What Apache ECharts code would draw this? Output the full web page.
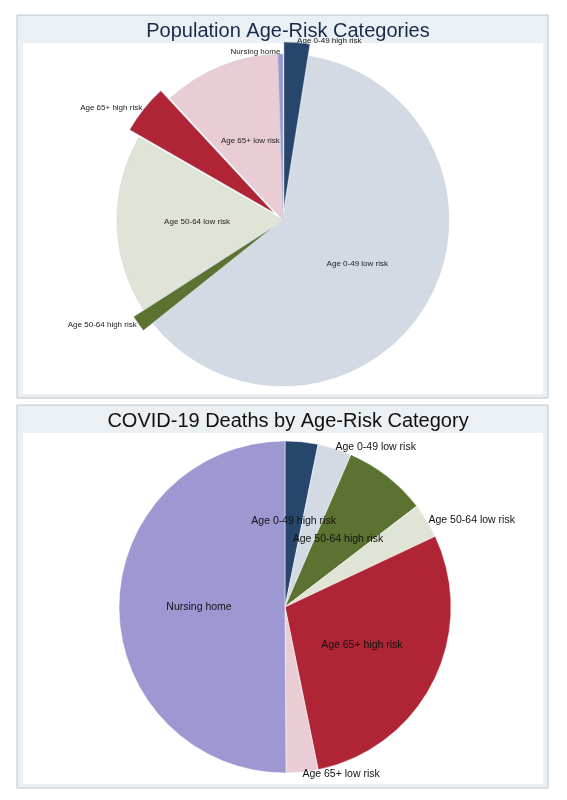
<!DOCTYPE html>
<html><head><meta charset="utf-8">
<script src="https://cdn.jsdelivr.net/npm/echarts@6/dist/echarts.min.js"></script>
<style>html,body{margin:0;padding:0;background:#fff}#c{width:567px;height:800px}</style>
</head><body><div id="c"></div>
<script>
const categories = ["Age 0-49 high risk","Age 0-49 low risk","Age 50-64 high risk","Age 50-64 low risk","Age 65+ high risk","Age 65+ low risk","Nursing home"];
const populationShare = [2.5, 61.8, 1.6, 17.4, 4.8, 11.4, 0.5];
const deathShare = [3.2, 3.3, 8.1, 3.4, 28.8, 3.1, 50.1];
const colors = ["#27466b","#d3dae3","#5b7231","#e0e4d6","#b02535","#eacdd4","#9d98d2"];
const popExploded = [true,false,true,false,true,false,false];
const popInside = [false,true,false,true,false,true,false];
const deathInside = [true,false,true,false,true,false,true];

const chart = echarts.init(document.getElementById('c'));
function panel(y){
  return [
    {type:'rect',shape:{x:17,y:y,width:531,height:383},style:{fill:'#eaf0f3',stroke:'#b8c6d2',lineWidth:1},silent:true},
    {type:'rect',shape:{x:23,y:y+28,width:520,height:351},style:{fill:'#ffffff'},silent:true}
  ];
}
function pieData(vals, inside, exploded, fs){
  return categories.map((n,i)=>({
    name:n, value:vals[i], selected: exploded ? exploded[i] : false,
    itemStyle:{color:colors[i]},
    label:{position: inside[i] ? 'inside' : 'outside', fontSize:fs},
    labelLine:{show:false}
  }));
}
chart.setOption({
  animation:false,
  graphic: panel(15).concat(panel(405)),
  title:[
    {text:'Population Age-Risk Categories',left:283,top:16,textAlign:'center',textStyle:{fontSize:20,fontWeight:'normal',color:'#1a2a4a',fontFamily:'Liberation Sans, Arial'}},
    {text:'COVID-19 Deaths by Age-Risk Category',left:283,top:406,textAlign:'center',textStyle:{fontSize:20,fontWeight:'normal',color:'#111',fontFamily:'Liberation Sans, Arial'}}
  ],
  series:[
    {type:'pie',center:[283,220],radius:[0,166],startAngle:90,clockwise:true,
     selectedMode:'multiple',selectedOffset:12,avoidLabelOverlap:false,
     itemStyle:{borderColor:'#c8d0da',borderWidth:0.5},
     label:{color:'#222',fontFamily:'Liberation Sans, Arial',distanceToLabelLine:0},
     labelLine:{show:false,length:2,length2:0},
     emphasis:{disabled:true},
     data:pieData(populationShare,popInside,popExploded,8)},
    {type:'pie',center:[285,607],radius:[0,166],startAngle:90,clockwise:true,
     avoidLabelOverlap:false,
     itemStyle:{borderColor:'#ffffff',borderWidth:0.5},
     label:{color:'#111',fontFamily:'Liberation Sans, Arial',distanceToLabelLine:0},
     labelLine:{show:false,length:2,length2:0},
     emphasis:{disabled:true},
     data:pieData(deathShare,deathInside,null,10.5)}
  ]
});
</script></body></html>
